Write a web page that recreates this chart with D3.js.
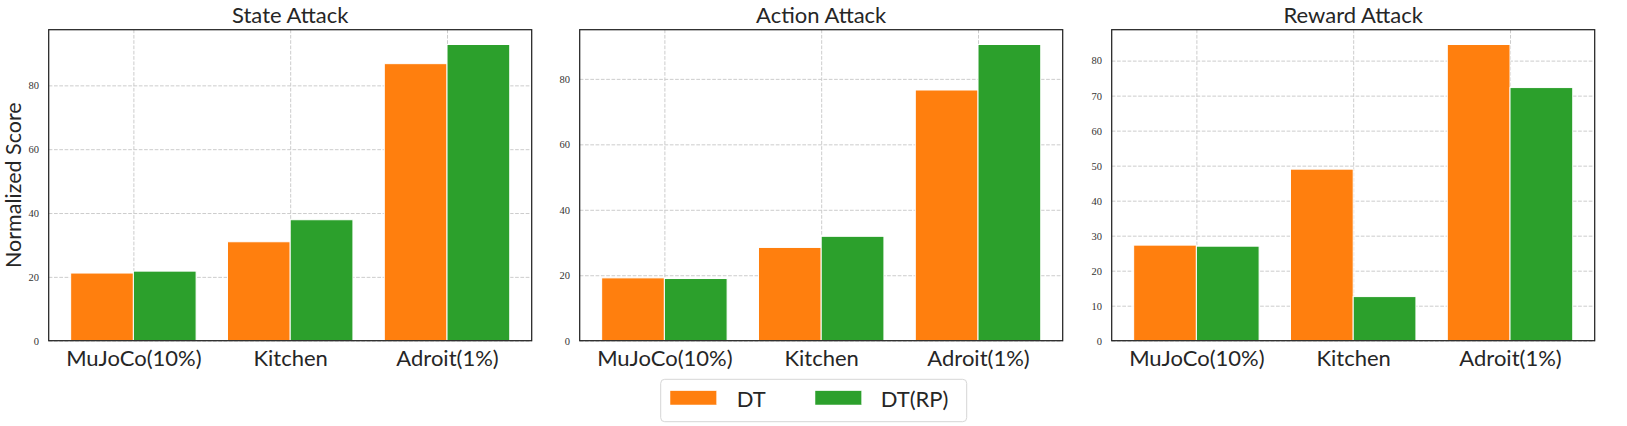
<!DOCTYPE html>
<html>
<head>
<meta charset="utf-8">
<script src="https://cdn.jsdelivr.net/npm/d3@7"></script>
<style>
  html, body { margin: 0; padding: 0; background: #fff; }
  svg { display: block; }
</style>
</head>
<body>
<svg id="chart" width="1627" height="426"></svg>
<script>
// ---------------- data ----------------
const categories = ["MuJoCo(10%)", "Kitchen", "Adroit(1%)"];
const seriesNames = ["DT", "DT(RP)"];
const panelTitles = ["State Attack", "Action Attack", "Reward Attack"];

const stateDT   = [21.2, 31.0, 86.8];
const stateRP   = [21.8, 37.9, 92.8];
const actionDT  = [19.2, 28.5, 76.6];
const actionRP  = [19.0, 31.9, 90.5];
const rewardDT  = [27.3, 49.0, 84.6];
const rewardRP  = [27.0, 12.6, 72.3];

const stateTicks  = [0, 20, 40, 60, 80];
const actionTicks = [0, 20, 40, 60, 80];
const rewardTicks = [0, 10, 20, 30, 40, 50, 60, 70, 80];

const yLabel = "Normalized Score";

// ---------------- layout ----------------
const colors = ["#ff7f0e", "#2ca02c"];
const panels = [
  { title: panelTitles[0], series: [stateDT, stateRP], ticks: stateTicks, left: 48.7 },
  { title: panelTitles[1], series: [actionDT, actionRP], ticks: actionTicks, left: 579.7 },
  { title: panelTitles[2], series: [rewardDT, rewardRP], ticks: rewardTicks, left: 1111.7 }
];
const axTop = 29.7, axH = 311, axW = 483;
const sansFont = "Lato, 'Open Sans', sans-serif";
const serifFont = "'Liberation Serif', 'DejaVu Serif', serif";
const textColor = "#262626";
const barW = 0.4;

const svg = d3.select("#chart");

panels.forEach((p, pi) => {
  const g = svg.append("g").attr("transform", `translate(${p.left},${axTop})`);
  const maxV = d3.max(p.series.flat());
  const x = d3.scaleLinear().domain([-0.54, categories.length - 1 + 0.54]).range([0, axW]);
  const y = d3.scaleLinear().domain([0, maxV * 1.05]).range([axH, 0]);

  // grid (behind bars)
  const gridY = d3.axisLeft(y).tickValues(p.ticks).tickSize(-axW).tickFormat("");
  const gy = g.append("g").call(gridY);
  gy.select(".domain").remove();
  gy.selectAll(".tick line")
    .attr("stroke", "#cccccc").attr("stroke-width", 1).attr("stroke-dasharray", "3.7,1.6");

  const gridX = d3.axisBottom(x).tickValues(d3.range(categories.length)).tickSize(-axH).tickFormat("");
  const gx = g.append("g").attr("transform", `translate(0,${axH})`).call(gridX);
  gx.select(".domain").remove();
  gx.selectAll(".tick line")
    .attr("stroke", "#cccccc").attr("stroke-width", 1).attr("stroke-dasharray", "3.7,1.6");

  // bars
  p.series.forEach((vals, si) => {
    g.append("g").selectAll("rect")
      .data(vals)
      .join("rect")
      .attr("x", (d, i) => x(i - barW + si * barW))
      .attr("width", x(barW) - x(0))
      .attr("y", d => y(d))
      .attr("height", d => y(0) - y(d))
      .attr("fill", colors[si])
      .attr("stroke", "#ffffff")
      .attr("stroke-width", 1);
  });

  // y tick labels
  const yAxis = d3.axisLeft(y).tickValues(p.ticks).tickSize(0).tickPadding(9.8).tickFormat(d3.format("d"));
  const ya = g.append("g").call(yAxis);
  ya.select(".domain").remove();
  ya.selectAll(".tick text")
    .attr("font-family", serifFont).attr("font-size", 10.5).attr("fill", "#333");

  // x tick labels
  const xAxis = d3.axisBottom(x).tickValues(d3.range(categories.length)).tickSize(0).tickPadding(0)
    .tickFormat(i => categories[i]);
  const xa = g.append("g").attr("transform", `translate(0,${axH})`).call(xAxis);
  xa.select(".domain").remove();
  xa.selectAll(".tick text")
    .attr("font-family", sansFont).attr("font-size", 22).attr("fill", textColor)
    .attr("dy", null).attr("y", 25.8);

  // frame
  g.append("rect").attr("x", 0).attr("y", 0).attr("width", axW).attr("height", axH)
    .attr("fill", "none").attr("stroke", "#222").attr("stroke-width", 1.25);

  // title
  g.append("text").attr("x", axW / 2).attr("y", -6.7).attr("text-anchor", "middle")
    .attr("font-family", sansFont).attr("font-size", 22).attr("fill", textColor)
    .text(p.title);

  if (pi === 0) {
    g.append("text")
      .attr("transform", `translate(${21.4 - p.left},${axH / 2}) rotate(-90)`)
      .attr("text-anchor", "middle")
      .attr("font-family", sansFont).attr("font-size", 21.5).attr("fill", textColor)
      .text(yLabel);
  }
});

// legend
const lg = svg.append("g").attr("transform", "translate(660.7,379.3)");
lg.append("rect").attr("x", 0).attr("y", 0).attr("width", 306).attr("height", 42.4)
  .attr("rx", 4).attr("ry", 4).attr("fill", "#fff").attr("stroke", "#d6d6d6").attr("stroke-width", 1);
const legendItems = [
  { name: seriesNames[0], color: colors[0], px: 9.3, tx: 76 },
  { name: seriesNames[1], color: colors[1], px: 154.3, tx: 220 }
];
legendItems.forEach(it => {
  lg.append("rect").attr("x", it.px).attr("y", 11.4).attr("width", 46.7).attr("height", 14.3)
    .attr("fill", it.color).attr("stroke", "#fff").attr("stroke-width", 0.5);
  lg.append("text").attr("x", it.tx).attr("y", 27.3)
    .attr("font-family", sansFont).attr("font-size", 22).attr("fill", textColor)
    .text(it.name);
});
</script>
</body>
</html>
